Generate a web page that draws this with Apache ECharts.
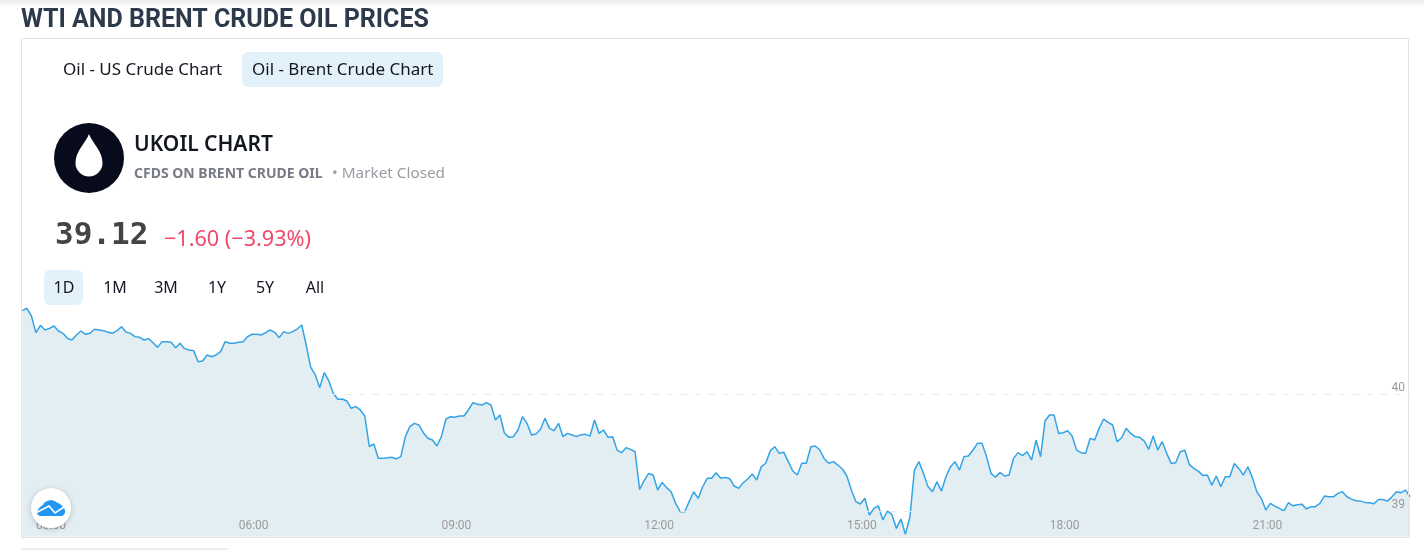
<!DOCTYPE html>
<html>
<head>
<meta charset="utf-8">
<style>html,body{margin:0;padding:0;background:#fff}#c{width:1424px;height:550px}</style>
<script src="https://cdn.jsdelivr.net/npm/echarts@6/dist/echarts.min.js"></script>
</head>
<body>
<div id="c"></div>
<script>
const startMinute = 156, stepMinutes = 4;
const tickLabels = ['03:00','06:00','09:00','12:00','15:00','18:00','21:00'];
const priceTicks = [39, 40];
const brentPrices = [
40.717,40.737,40.671,40.528,40.591,40.551,40.565,40.585,40.542,40.522,40.479,40.465,40.508,40.542,40.514,40.522,
40.557,40.551,40.545,40.531,40.522,40.545,40.579,40.534,40.522,40.494,40.488,40.465,40.477,40.442,40.402,40.451,
40.451,40.445,40.399,40.437,40.391,40.379,40.374,40.279,40.285,40.337,40.322,40.337,40.365,40.451,40.437,40.437,
40.445,40.451,40.494,40.514,40.514,40.508,40.528,40.551,40.531,40.485,40.537,40.522,40.537,40.559,40.594,40.422,
40.230,40.166,40.057,40.186,40.117,40.009,39.957,39.960,39.943,39.880,39.894,39.866,39.814,39.551,39.574,39.451,
39.451,39.457,39.460,39.446,39.466,39.637,39.723,39.751,39.737,39.671,39.623,39.608,39.557,39.637,39.786,39.808,
39.803,39.814,39.814,39.866,39.928,39.914,39.908,39.928,39.908,39.780,39.823,39.666,39.631,39.637,39.694,39.808,
39.751,39.651,39.660,39.700,39.794,39.708,39.688,39.751,39.637,39.665,39.651,39.637,39.654,39.657,39.642,39.780,
39.665,39.694,39.631,39.637,39.522,39.500,39.542,39.528,39.508,39.185,39.260,39.322,39.308,39.180,39.245,39.200,
39.165,39.065,38.994,38.994,39.080,39.165,39.108,39.208,39.280,39.280,39.328,39.280,39.288,39.277,39.214,39.194,
39.242,39.274,39.317,39.265,39.380,39.409,39.517,39.551,39.494,39.503,39.423,39.343,39.309,39.409,39.409,39.551,
39.557,39.523,39.446,39.409,39.423,39.394,39.360,39.300,39.180,39.080,39.060,39.109,38.966,39.023,39.043,38.923,
39.000,38.971,38.851,38.931,38.800,38.951,39.351,39.423,39.323,39.209,39.166,39.251,39.171,39.294,39.380,39.423,
39.351,39.466,39.471,39.523,39.580,39.580,39.466,39.323,39.289,39.331,39.300,39.308,39.451,39.500,39.474,39.508,
39.437,39.608,39.465,39.774,39.822,39.822,39.665,39.671,39.688,39.642,39.522,39.500,39.494,39.622,39.608,39.708,
39.788,39.760,39.737,39.594,39.628,39.708,39.665,39.637,39.631,39.600,39.528,39.642,39.522,39.594,39.494,39.408,
39.414,39.508,39.522,39.400,39.365,39.342,39.305,39.308,39.222,39.300,39.208,39.294,39.294,39.408,39.365,39.308,
39.379,39.288,39.165,39.108,39.008,39.065,39.042,39.022,38.999,39.071,39.045,39.054,39.059,39.017,39.037,39.037,
39.065,39.128,39.122,39.122,39.151,39.165,39.122,39.102,39.088,39.085,39.074,39.071,39.062,39.099,39.099,39.085,
39.122,39.165,39.157,39.179,39.122
];
const times = brentPrices.map((_, i) => {
  const m = startMinute + i * stepMinutes;
  return String(Math.floor(m / 60)).padStart(2, '0') + ':' + String(m % 60).padStart(2, '0');
});
const tabs = ['Oil - US Crude Chart', 'Oil - Brent Crude Chart'];
const ranges = ['1D', '1M', '3M', '1Y', '5Y', 'All'];
const rangeX = [64, 115, 166, 217, 265, 315];

echarts.graphic.registerShape('dropIcon', echarts.graphic.extendPath('M89 134 C93 144 102.500 151 102.500 163 A13.500 13.500 0 0 1 75.500 163 C75.500 151 85 144 89 134 Z', {}));
echarts.graphic.registerShape('cloudIcon', echarts.graphic.extendPath('M37 513 C38 508 41 506 43 505 C45 500 53 499 56 502 C59 503 62 505 63 507 C66 509 66 516 61 516 L41 516 C39 516 37 515 37 513 Z', {}));

const UI = '"Noto Sans", sans-serif';
const txt = (x, y, text, font, fill, align) => ({
  type: 'text', z: 20, x, y,
  style: { text, font, fill, align: align || 'left', verticalAlign: 'middle' }
});
const rr = (x, y, width, height, r, fill, z) => ({
  type: 'rect', z: z || 10, shape: { x, y, width, height, r }, style: { fill }
});

const chart = echarts.init(document.getElementById('c'), null, { renderer: 'canvas' });
chart.setOption({
  animation: false,
  backgroundColor: '#ffffff',
  grid: { left: 22.4, right: 14, top: 300.9, bottom: 13.3 },
  xAxis: {
    type: 'category', data: times, boundaryGap: false,
    axisLine: { show: false }, axisTick: { show: false }, splitLine: { show: false },
    axisLabel: {
      inside: true, margin: 5, color: '#9b9b9b', fontFamily: 'Roboto, sans-serif', fontSize: 12,
      padding: [0, 0, 0, 3],
      interval: (i, v) => tickLabels.includes(v), hideOverlap: false
    },
    z: 5
  },
  yAxis: {
    type: 'value', position: 'right', min: 38.78, max: 40.8,
    axisLine: { show: false },
    axisTick: { show: false, customValues: priceTicks },
    axisLabel: {
      inside: true, margin: 5, color: '#9b9b9b', fontFamily: 'Roboto, sans-serif', fontSize: 12,
      verticalAlign: 'bottom', align: 'right', customValues: priceTicks
    },
    splitLine: { show: true, lineStyle: { color: '#ebebeb', type: [7, 7], width: 1 } },
    z: 5
  },
  series: [{
    type: 'line', data: brentPrices, showSymbol: false, symbol: 'none',
    lineStyle: { color: '#33a3e6', width: 1.5 },
    areaStyle: { color: '#e3eef3', opacity: 1 },
    z: 2
  }],
  graphic: { elements: [
    { type: 'rect', z: 1, shape: { x: 0, y: 0, width: 1424, height: 7 },
      style: { fill: new echarts.graphic.LinearGradient(0, 0, 0, 1, [{ offset: 0, color: '#ececec' }, { offset: 1, color: '#ffffff' }]) } },
    txt(21, 21, 'WTI AND BRENT CRUDE OIL PRICES', 'bold 25px Roboto, sans-serif', '#2d3a4b'),
    { type: 'rect', z: 8, shape: { x: 21.5, y: 38.5, width: 1387, height: 499 },
      style: { fill: 'none', stroke: '#e1e3e6', lineWidth: 1 } },
    rr(21, 548, 207, 2, 0, '#eeeeee'),
    rr(242, 52, 201, 35, 6, '#e3f1fb'),
    txt(63, 70, tabs[0], '17px ' + UI, '#131722'),
    txt(252, 70, tabs[1], '17px ' + UI, '#131722'),
    { type: 'circle', z: 10, shape: { cx: 89, cy: 158, r: 35 }, style: { fill: '#080b1c' } },
    { type: 'dropIcon', z: 11, style: { fill: '#ffffff' } },
    txt(134, 145, 'UKOIL CHART', '600 21px ' + UI, '#131722'),
    txt(134, 174, 'CFDS ON BRENT CRUDE OIL', 'bold 14px ' + UI, '#787b86'),
    txt(332, 174, '• Market Closed', '15.3px ' + UI, '#9a9ca3'),
    txt(55, 236, '39.12', 'bold 31px "DejaVu Sans Mono", monospace', '#444444'),
    txt(164, 240, '−1.60 (−3.93%)', '21.6px ' + UI, '#ef4a6b'),
    rr(44, 270, 39, 35, 6, '#e3f1fb'),
    ...ranges.map((r, i) => txt(rangeX[i], 288, r, '16px ' + UI, '#131722', 'center')),
    { type: 'circle', z: 30, shape: { cx: 51, cy: 508, r: 20 },
      style: { fill: '#ffffff', shadowBlur: 5, shadowColor: 'rgba(0,0,0,0.22)', shadowOffsetY: 1 } },
    { type: 'cloudIcon', z: 31, style: { fill: '#2196f3' } },
    { type: 'polyline', z: 32, shape: { points: [[36.500, 512.500], [49, 506], [55, 513], [64, 507]] }, style: { fill: 'none', stroke: '#ffffff', lineWidth: 1.6 } }
  ] }
});
</script>
</body>
</html>
